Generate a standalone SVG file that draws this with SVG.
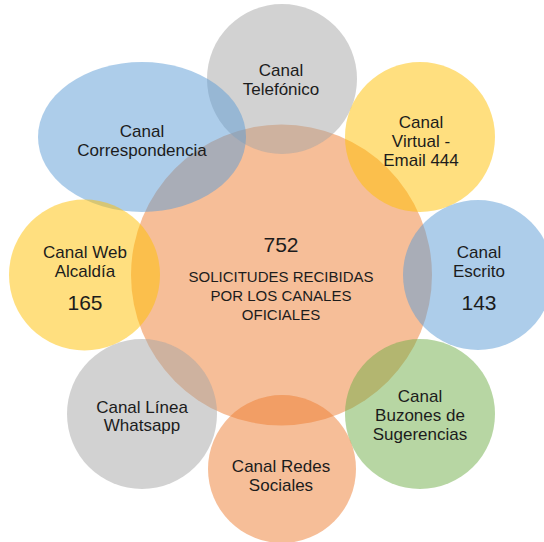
<svg xmlns="http://www.w3.org/2000/svg" width="544" height="542" viewBox="0 0 544 542">
<style>
  .n { fill-opacity: 0.5; stroke: none; }
  .gray { fill: #A5A5A5; }
  .blue { fill: #5B9BD5; }
  .yellow { fill: #FFC000; }
  .orange { fill: #ED7D31; }
  .green { fill: #70AD47; }
  text { font-family: "Liberation Sans", Arial, sans-serif; fill: #1c1c1c; text-anchor: middle; }
  .lbl { font-size: 17px; }
  .num { font-size: 21px; }
  .ctr { font-size: 15px; }
</style>
<rect width="544" height="542" fill="#ffffff"/>
<g id="connectors"/>
<g id="node-center">
  <circle class="n orange" cx="281.5" cy="275" r="150.5"/>
</g>
<g id="node-telefonico">
  <circle class="n gray" cx="282" cy="79" r="75"/>
</g>
<g id="node-correspondencia">
  <ellipse class="n blue" cx="142" cy="137" rx="104" ry="75"/>
</g>
<g id="node-virtual">
  <circle class="n yellow" cx="420" cy="137" r="75"/>
</g>
<g id="node-web">
  <circle class="n yellow" cx="84.5" cy="275" r="75.5"/>
</g>
<g id="node-escrito">
  <circle class="n blue" cx="478" cy="275" r="75"/>
</g>
<g id="node-whatsapp">
  <circle class="n gray" cx="142" cy="414" r="75"/>
</g>
<g id="node-buzones">
  <circle class="n green" cx="420" cy="414" r="75"/>
</g>
<g id="node-redes">
  <circle class="n orange" cx="282" cy="469" r="74"/>
</g>
<g id="labels">
  <text class="lbl" x="281" y="76">Canal</text>
  <text class="lbl" x="281" y="95">Telefónico</text>
  <text class="lbl" x="142" y="137">Canal</text>
  <text class="lbl" x="142" y="156">Correspondencia</text>
  <text class="lbl" x="421" y="128">Canal</text>
  <text class="lbl" x="421" y="147">Virtual -</text>
  <text class="lbl" x="421" y="166">Email 444</text>
  <text class="num" x="281" y="252">752</text>
  <text class="ctr" x="281" y="282">SOLICITUDES RECIBIDAS</text>
  <text class="ctr" x="281" y="301">POR LOS CANALES</text>
  <text class="ctr" x="281" y="320">OFICIALES</text>
  <text class="lbl" x="85" y="258">Canal Web</text>
  <text class="lbl" x="85" y="277">Alcaldía</text>
  <text class="num" x="85" y="310">165</text>
  <text class="lbl" x="479" y="258">Canal</text>
  <text class="lbl" x="479" y="277">Escrito</text>
  <text class="num" x="479" y="310">143</text>
  <text class="lbl" x="142" y="413">Canal Línea</text>
  <text class="lbl" x="142" y="431">Whatsapp</text>
  <text class="lbl" x="420" y="402">Canal</text>
  <text class="lbl" x="420" y="421">Buzones de</text>
  <text class="lbl" x="420" y="440">Sugerencias</text>
  <text class="lbl" x="281" y="472">Canal Redes</text>
  <text class="lbl" x="281" y="491">Sociales</text>
</g>
</svg>
